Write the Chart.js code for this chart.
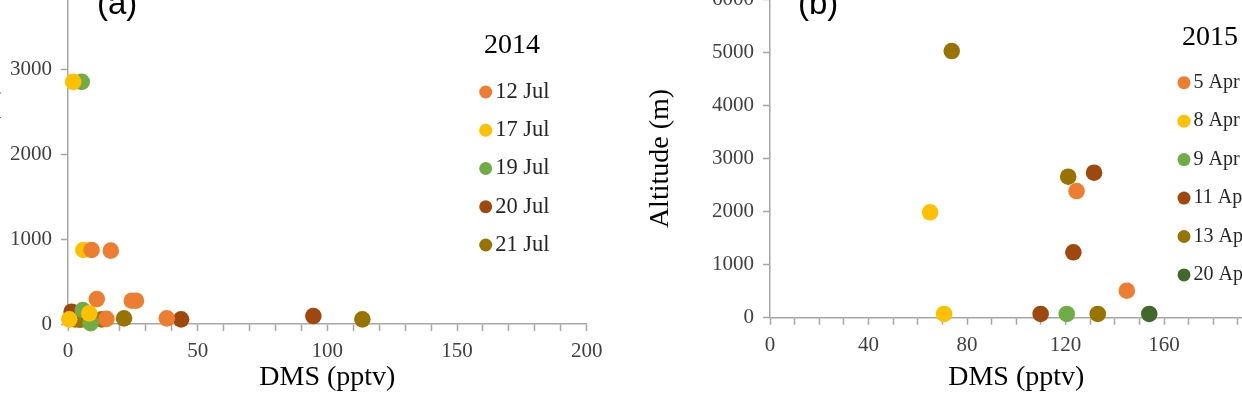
<!DOCTYPE html>
<html>
<head>
<meta charset="utf-8">
<script src="https://cdn.jsdelivr.net/npm/chart.js@4.4.1/dist/chart.umd.min.js"></script>
<style>
  html, body { margin: 0; padding: 0; background: #fff; }
  body { width: 1242px; height: 401px; overflow: hidden; position: relative; }
  canvas { position: absolute; }
  #chartA { left: -100px; top: -40px; }
  #chartB { left: 620px; top: -40px; }
</style>
</head>
<body>
<canvas id="chartA" width="720" height="441"></canvas>
<canvas id="chartB" width="700" height="441"></canvas>
<script>
// panel (a), 2014 flights: [DMS pptv, altitude m]
const dates2014 = ['12 Jul', '17 Jul', '19 Jul', '20 Jul', '21 Jul'];
const jul12 = [[9.1, 874], [16.5, 866], [11.1, 295], [24.6, 275], [26.2, 275], [38.1, 67], [14.8, 60]];
const jul17 = [[2.0, 2860], [5.9, 874], [0.5, 55], [8.2, 126]];
const jul19 = [[5.3, 2860], [5.7, 165], [8.7, 10]];
const jul20 = [[1.4, 145], [43.6, 55], [94.6, 94]];
const jul21 = [[2.8, 55], [4.7, 50], [7.5, 55], [9.5, 55], [13.0, 55], [21.6, 67], [113.5, 55]];

// panel (b), 2015 flights
const dates2015 = ['5 Apr', '8 Apr', '9 Apr', '11 Apr', '13 Apr', '20 Apr'];
const apr5 = [[124.5, 2387], [144.9, 509]];
const apr8 = [[65.0, 1986], [70.7, 70]];
const apr9 = [[120.5, 70]];
const apr11 = [[131.6, 2732], [123.2, 1232], [109.9, 70]];
const apr13 = [[73.8, 5025], [121.1, 2657], [133.1, 70]];
const apr20 = [[154.0, 70]];

const colors2014 = ['#ED7D31', '#FFC000', '#70AD47', '#9E480E', '#997300'];
const colors2015 = ['#ED7D31', '#FFC000', '#70AD47', '#9E480E', '#997300', '#43682B'];

const AXIS = '#A6A6A6';
const SERIF = 'Liberation Serif';

// panel letter + year title + legend drawn inside the plot
const panelDecor = {
  id: 'panelDecor',
  afterDraw(chart, args, o) {
    const ctx = chart.ctx;
    ctx.save();
    ctx.fillStyle = '#000';
    ctx.font = '33px "Liberation Sans"';
    ctx.textAlign = 'left';
    ctx.textBaseline = 'alphabetic';
    ctx.fillText(o.tag, o.tagX, o.tagY);

    ctx.font = '28px "' + SERIF + '"';
    ctx.textAlign = 'center';
    ctx.textBaseline = 'middle';
    ctx.fillText(o.year, o.yearX, o.yearY);

    ctx.font = o.itemSize + 'px "' + SERIF + '"';
    ctx.textAlign = 'left';
    chart.data.datasets.forEach((ds, i) => {
      const y = o.itemY + i * o.itemGap;
      ctx.fillStyle = ds.backgroundColor;
      ctx.beginPath();
      ctx.arc(o.itemX, y, 6.5, 0, Math.PI * 2);
      ctx.fill();
      ctx.fillStyle = '#262626';
      ctx.fillText(ds.label, o.itemX + 9.5, y);
    });
    ctx.restore();
  }
};

function makeDatasets(labels, series, colors) {
  return labels.map((l, i) => ({
    label: l,
    data: series[i].map(p => ({ x: p[0], y: p[1] })),
    backgroundColor: colors[i],
    borderWidth: 0,
    pointRadius: 8.3,
    pointHoverRadius: 8.3,
    clip: false
  }));
}

function makeChart(id, datasets, c) {
  return new Chart(document.getElementById(id), {
    type: 'scatter',
    data: { datasets },
    plugins: [panelDecor],
    options: {
      responsive: false,
      animation: false,
      devicePixelRatio: 1,
      layout: { padding: { left: 0, top: c.padTop, right: c.padRight, bottom: 0 } },
      plugins: {
        legend: { display: false },
        tooltip: { enabled: false },
        panelDecor: c.decor
      },
      scales: {
        x: {
          type: 'linear', min: 0, max: 200,
          border: { color: AXIS, width: 1.5 },
          grid: { drawOnChartArea: false, tickLength: 7, tickColor: AXIS, tickWidth: 1.5 },
          ticks: {
            stepSize: 10, autoSkip: false, maxRotation: 0, minRotation: 0, padding: 8,
            color: '#404040', font: { family: SERIF, size: 21 },
            callback: v => (v % c.xMajor === 0 ? String(v) : '')
          },
          title: { display: true, text: 'DMS (pptv)', color: '#000', font: { family: SERIF, size: 28 }, padding: { top: 0, bottom: 6.7 } },
          afterFit(s) { s.height = c.xHeight; s.paddingLeft = 0; s.paddingRight = 0; }
        },
        y: {
          type: 'linear', min: 0, max: c.yMax,
          border: { color: AXIS, width: 1.5 },
          grid: { drawOnChartArea: false, tickLength: 7, tickColor: AXIS, tickWidth: 1.5 },
          ticks: {
            stepSize: 1000, padding: 9, color: '#404040', font: { family: SERIF, size: 21 },
            callback: v => String(v)
          },
          title: { display: true, text: 'Altitude (m)', color: '#000', font: { family: SERIF, size: 28 }, padding: { top: c.yTitlePad, bottom: 0 } },
          afterFit(s) { s.width = c.yWidth; s.paddingTop = 0; s.paddingBottom = 0; }
        }
      }
    }
  });
}

makeChart('chartA', makeDatasets(dates2014, [jul12, jul17, jul19, jul20, jul21], colors2014), {
  padTop: 25.3, padRight: 33.3, xHeight: 77, yWidth: 168, yMax: 4000, xMajor: 50, yTitlePad: 70.7,
  decor: { tag: '(a)', tagX: 197, tagY: 54, year: '2014', yearX: 612, yearY: 85.8, itemX: 585.7, itemY: 132, itemGap: 38.25, itemSize: 22.5 }
});

makeChart('chartB', makeDatasets(dates2015, [apr5, apr8, apr9, apr11, apr13, apr20], colors2015), {
  padTop: 39.3, padRight: 57.5, xHeight: 83.3, yWidth: 150, yMax: 6000, xMajor: 40, yTitlePad: 24.2,
  decor: { tag: '(b)', tagX: 178, tagY: 54, year: '2015', yearX: 590, yearY: 77.5, itemX: 564, itemY: 122.7, itemGap: 38.45, itemSize: 20 }
});
</script>
</body>
</html>
